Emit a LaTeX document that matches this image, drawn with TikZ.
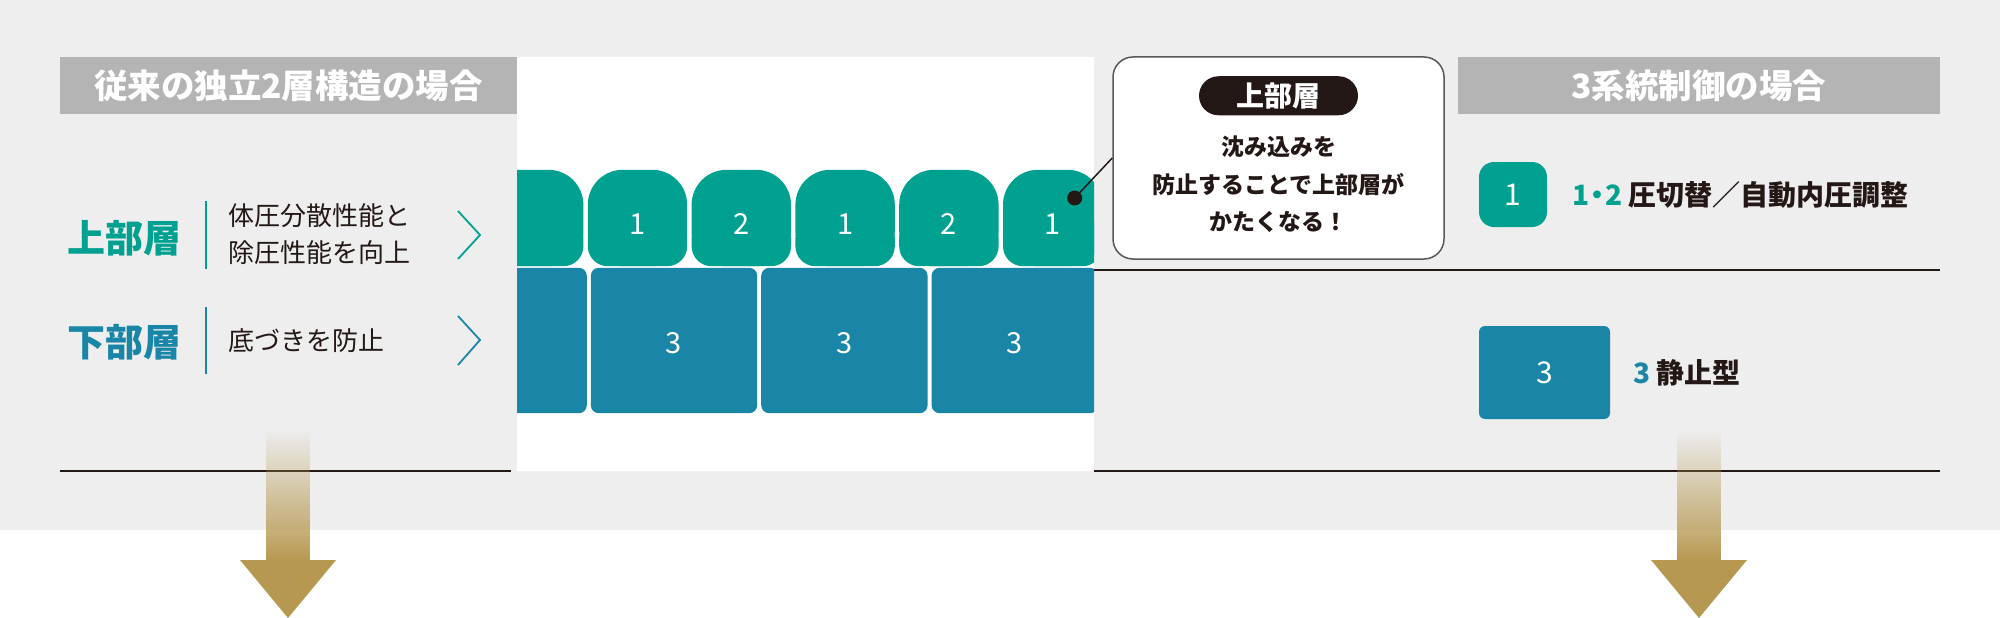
\documentclass[tikz,border=0pt]{standalone}
\usepackage{fontspec}
\setmainfont{Noto Sans CJK JP}
\usepackage{xcolor}
\usepackage{tikz}
\usetikzlibrary{positioning,backgrounds,fadings}

\definecolor{upteal}{RGB}{0,161,144}
\definecolor{lowblue}{RGB}{25,134,168}
\definecolor{headgray}{RGB}{180,180,180}
\definecolor{bggray}{RGB}{238,238,238}
\definecolor{inkdark}{RGB}{35,24,21}
\definecolor{framegray}{RGB}{89,87,87}
\definecolor{arrowgold}{RGB}{182,152,80}

\begin{document}
\begin{tikzpicture}[x=1pt,y=-1pt,
    headbox/.style={fill=headgray, text=white, inner sep=0pt, minimum height=57pt, font=\bfseries\fontsize{33.5}{33.5}\selectfont},
    layername/.style={inner sep=0pt, font=\bfseries\fontsize{38}{40}\selectfont},
    bodytext/.style={inner sep=0pt, align=left, text=inkdark, font=\fontsize{26}{37}\selectfont},
    upcell/.style={inner sep=0pt, minimum width=99pt, minimum height=96pt, text height=33pt, text depth=0pt, text=white, font=\fontsize{29}{29}\selectfont},
    lowcell/.style={inner sep=0pt, minimum width=166pt, minimum height=145pt, text height=26pt, text depth=0pt, text=white, font=\fontsize{29}{29}\selectfont},
    callbox/.style={draw=framegray, line width=1.5pt, fill=white, rounded corners=20pt, minimum width=331pt, minimum height=202pt},
    pill/.style={fill=inkdark, text=white, inner sep=0pt, rounded corners=19.5pt, minimum width=159pt, minimum height=39pt, font=\bfseries\fontsize{28}{28}\selectfont},
    calltext/.style={inner sep=0pt, align=center, text=inkdark, font=\bfseries\fontsize{23}{37.5}\selectfont},
    legbox/.style={inner sep=0pt, text=white, font=\fontsize{30}{30}\selectfont},
    legtext/.style={inner sep=0pt, text=inkdark, font=\bfseries\fontsize{28}{28}\selectfont},
    rule/.style={draw=inkdark, line width=1.8pt},
    chev/.style={line width=1.8pt},
  ]
  \useasboundingbox (0,0) rectangle (2000,618);

  %Headers
  \node[headbox, minimum width=457pt](oldhead) at (288.5,85.5){従来の独立2層構造の場合};
  \node[headbox, minimum width=482pt](newhead) at (1699,85.5){3系統制御の場合};

  %Left labels
  \node[layername, text=upteal](uplabel) at (124,238){上部層};
  \node[layername, text=lowblue](lowlabel) at (124,342){下部層};
  \node[bodytext, anchor=west](uptext) at (228,234.5){体圧分散性能と\\除圧性能を向上};
  \node[bodytext, anchor=west](lowtext) at (228,341){底づきを防止};
  \draw[upteal, line width=2.5pt] (206,201) -- (206,269);
  \draw[lowblue, line width=2.5pt] (206,307) -- (206,374);
  \draw[upteal, chev] (458,211) -- (480,235) -- (458,259);
  \draw[lowblue, chev] (458,316) -- (480,340) -- (458,365);

  %Cells
  \node[upcell](u1) at (637.5,218){1};
  \node[upcell](u0)[left=4.4pt of u1]{};
  \node[upcell](u2)[right=4.4pt of u1]{2};
  \node[upcell](u3)[right=4.4pt of u2]{1};
  \node[upcell](u4)[right=4.4pt of u3]{2};
  \node[upcell](u5)[right=4.4pt of u4]{1};
  \node[lowcell](d1) at (674,340.5){3};
  \node[lowcell](d0)[left=4pt of d1]{};
  \node[lowcell](d2)[right=4pt of d1]{3};
  \node[lowcell](d3)[right=4pt of d2]{3};

  %Callout
  \node[callbox](callout) at (1278.5,158){};
  \node[pill](pilltag) at ([yshift=-39.5pt]callout.north){上部層};
  \node[calltext](callnote) at (1278.5,184.5){沈み込みを\\防止することで上部層が\\かたくなる！};
  \coordinate (pin) at ([xshift=22pt,yshift=20pt]u5.center);
  \draw[inkdark, line width=1.5pt] (pin) -- (callout.west);
  \fill[inkdark] (pin) circle (7.5pt);

  %Legend
  \node[legbox, fill=upteal, minimum width=68pt, minimum height=65pt, rounded corners=15pt](onekey) at (1513,194.5){1};
  \node[legtext](onetext)[right=25pt of onekey]{\textcolor{upteal}{1\kern-6pt・\kern-6pt2} 圧切替／自動内圧調整};
  \node[legbox, fill=lowblue, minimum width=131pt, minimum height=93pt, rounded corners=6pt](threekey) at (1544.5,372.5){3};
  \node[legtext](threetext)[right=23pt of threekey]{\textcolor{lowblue}{3} 静止型};

  %Lines
  \draw[rule] (60,471) -- (511,471);
  \draw[rule] (1094,471) -- (1940,471);
  \draw[rule] (1094,270) -- (1940,270);

  %Arrows
  \fill[arrowgold, path fading=north] (266,430) rectangle (310,561);
  \fill[arrowgold] (240,560) -- (336,560) -- (288,618) -- cycle;
  \fill[arrowgold, path fading=north] (1677,430) rectangle (1721,561);
  \fill[arrowgold] (1651,560) -- (1747,560) -- (1699,618) -- cycle;

  %Backgrounds
  \begin{scope}[on background layer]
    \fill[white] (0,0) rectangle (2000,618);
    \fill[bggray] (0,0) rectangle (2000,530);
    \fill[white] (517,57) rectangle (1094,471);
    \begin{scope}
      \clip (517,57) rectangle (1094,471);
      \foreach \c in {u0,u1,u2,u3,u4,u5}{
        \fill[upteal, rounded corners=35pt] (\c.north west) rectangle (\c.south east);
        \fill[upteal, rounded corners=20pt] (\c.west) rectangle (\c.south east);
      }
      \foreach \c in {d0,d1,d2,d3}
        \fill[lowblue, rounded corners=8pt] (\c.north west) rectangle (\c.south east);
    \end{scope}
  \end{scope}
\end{tikzpicture}
\end{document}
